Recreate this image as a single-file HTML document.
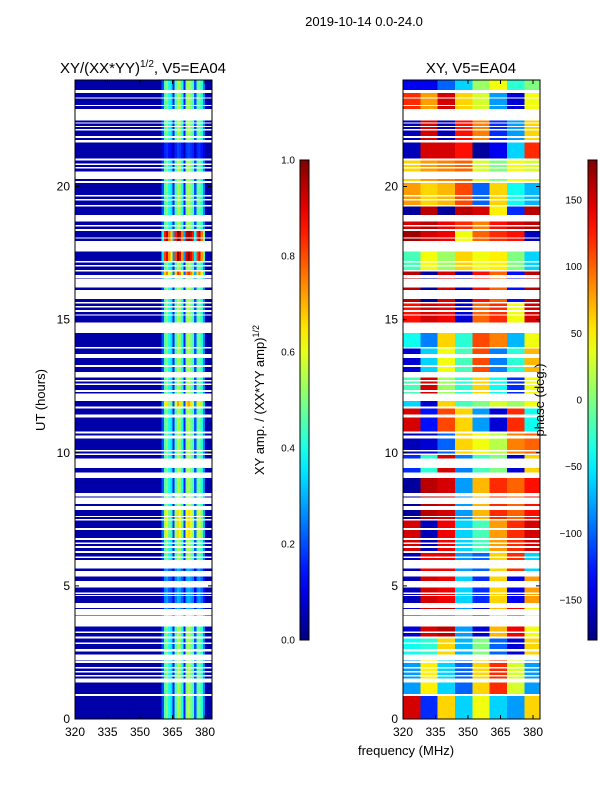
<!DOCTYPE html>
<html><head><meta charset="utf-8"><style>
html,body{margin:0;padding:0;background:#fff;}
svg{display:block;font-family:"Liberation Sans",sans-serif;}
#heatL rect,#heatR rect{shape-rendering:crispEdges;}
</style></head><body>
<svg id="fig" width="600" height="800" viewBox="0 0 600 800" xmlns="http://www.w3.org/2000/svg">
<defs>
<linearGradient id="jetg" x1="0" y1="1" x2="0" y2="0"></linearGradient>
<clipPath id="clipL"><rect x="75" y="80" width="137" height="639"/></clipPath>
<clipPath id="clipR"><rect x="403" y="80" width="137" height="639"/></clipPath>
</defs>
<text x="364" y="26" font-size="13" text-anchor="middle">2019-10-14 0.0-24.0</text>
<text x="143" y="73" font-size="15" text-anchor="middle">XY/(XX*YY)<tspan font-size="10" dy="-6">1/2</tspan><tspan dy="6">, V5=EA04</tspan></text>
<text x="471" y="73" font-size="15" text-anchor="middle">XY, V5=EA04</text>
<g id="heatL" clip-path="url(#clipL)"></g>
<g id="heatR" clip-path="url(#clipR)"></g>
<g id="axes"></g>
<text transform="translate(45,400) rotate(-90)" font-size="13" text-anchor="middle">UT (hours)</text>
<text x="406" y="755" font-size="13" text-anchor="middle">frequency (MHz)</text>
<text transform="translate(264,400) rotate(-90)" font-size="13" text-anchor="middle">XY amp. / (XX*YY amp)<tspan font-size="9" dy="-5">1/2</tspan></text>
<text transform="translate(544,400) rotate(-90)" font-size="13" text-anchor="middle">phase (deg.)</text>
<rect x="300" y="160" width="9" height="480" fill="url(#jetg)" stroke="#000" stroke-width="1"/>
<rect x="588" y="160" width="9" height="480" fill="url(#jetg)" stroke="#000" stroke-width="1"/>
</svg>
<script>
// ---- data ----
const flagged = [[23.52,23.62],[23.31,23.35],[23.02,23.06],[22.47,22.91],[22.36,22.41],[22.23,22.28],[22.10,22.16],[21.83,21.90],[21.65,21.74],[20.97,21.06],[20.81,20.87],[20.68,20.74],[20.28,20.56],[20.14,20.21],[19.62,19.68],[19.48,19.53],[19.24,19.31],[18.68,18.93],[18.49,18.56],[18.33,18.40],[18.05,18.09],[17.55,17.96],[17.14,17.20],[16.99,17.05],[16.80,16.87],[16.55,16.68],[16.21,16.53],[15.77,16.11],[15.61,15.67],[15.45,15.51],[15.28,15.36],[15.15,15.20],[14.49,14.90],[13.92,13.98],[13.55,13.70],[13.22,13.30],[12.83,13.04],[12.67,12.73],[12.55,12.61],[12.29,12.36],[11.94,12.23],[11.67,11.73],[11.32,11.44],[10.73,10.79],[10.58,10.64],[10.54,10.57],[10.04,10.10],[9.92,9.98],[9.42,9.79],[9.06,9.25],[8.35,8.48],[8.08,8.31],[7.85,8.00],[7.59,7.62],[7.46,7.52],[7.09,7.17],[6.73,6.79],[6.58,6.63],[6.43,6.49],[6.23,6.31],[6.04,6.10],[5.66,5.97],[5.35,5.56],[4.94,5.19],[4.69,4.76],[4.62,4.66],[4.16,4.36],[3.88,4.13],[3.47,3.87],[3.23,3.28],[3.03,3.10],[2.81,2.88],[2.53,2.62],[2.20,2.42],[2.11,2.17],[1.89,1.96],[1.74,1.80],[1.59,1.66],[1.38,1.53],[0.87,0.93]];
// amplitude per 1-MHz channel, 320..383 MHz
const ampCols = [0.04,0.04,0.04,0.04,0.04,0.04,0.04,0.04,0.04,0.04,0.04,0.04,0.04,0.04,0.04,0.04,0.04,0.04,0.04,0.04,0.04,0.04,0.04,0.04,0.04,0.04,0.04,0.04,0.04,0.04,0.04,0.04,0.04,0.04,0.04,0.04,0.04,0.04,0.04,0.04,
0.2,0.45,0.5,0.4,0.35,0.15,0.45,0.55,0.5,0.4,0.15,0.5,0.55,0.5,0.45,0.2,0.45,0.5,0.4,0.25,0.04,0.04,0.04,0.04];
// gain blocks [startHour, endHour, gain]
const ampGainStart = [17.9,17.2,16.7,21.06,4.0,11.7,6.7];
const ampGainEnd   = [18.4,17.5,16.8,21.65,5.7,12.0,8.0];
const ampGainVal   = [1.9,1.8,1.5,0.35,0.55,1.3,1.2];
// phase blocks: start hour (descending) and 8 values per block (8-MHz columns)
const phaseStarts = [23.55,22.6,21.7,21.0,20.0,19.3,18.9,18.4,17.9,16.9,15.7,14.9,14.0,13.0,12.0,11.7,10.8,10.0,9.0,7.4,6.3,5.6,4.3,3.1,2.3,1.1,0];
const phaseVals = [
[-140,-140,-100,-60,10,40,-30,0],
[120,80,150,60,30,-80,-150,40],
[-160,150,-160,130,90,-120,-80,60],
[-160,150,150,130,-170,-140,-60,120],
[60,80,90,100,30,0,40,30],
[80,60,70,110,-100,60,-40,-70],
[-170,160,-170,160,150,50,-120,160],
[150,160,140,120,90,130,150,160],
[170,150,140,40,100,120,130,-160],
[-20,40,10,60,40,50,0,-60],
[160,-170,150,-160,130,100,-130,160],
[130,150,140,-150,100,120,40,150],
[-40,-90,60,-30,110,90,-70,40],
[-150,-60,40,-20,110,-90,-30,70],
[-20,150,10,-30,60,-40,-120,40],
[-60,-150,60,-20,0,30,10,40],
[150,-130,110,60,-80,-150,120,-40],
[-160,-150,-100,60,40,20,90,100],
[-120,-30,150,-90,-20,0,-150,60],
[-170,160,150,-80,70,120,100,130],
[150,-160,140,-60,-20,80,120,150],
[-160,140,140,-80,-100,60,120,-60],
[-160,150,140,-60,-120,60,-140,80],
[-150,150,160,-80,-150,70,140,40],
[-40,-30,60,-70,0,-100,-150,60],
[-80,50,-60,-100,60,120,30,-80],
[150,-120,60,-60,40,-60,-80,60]];
const yTicks = [0,5,10,15,20];
const xTicks = [320,335,350,365,380];
const ampTicks = [0.0,0.2,0.4,0.6,0.8,1.0];
const phaseTicks = [-150,-100,-50,0,50,100,150];

// ---- helpers ----
const NS = "http://www.w3.org/2000/svg";
function jet(v){v=Math.max(0,Math.min(1,v));const c=t=>Math.round(255*Math.max(0,Math.min(1,1.5-Math.abs(t))));return `rgb(${c(4*v-3)},${c(4*v-2)},${c(4*v-1)})`;}
const yS = h => 719 - h*26.625;
const xS = (x0,f) => x0 + (f-320)*2.1667;
function mk(tag, attrs, parent){const e=document.createElementNS(NS,tag);for(const k in attrs)e.setAttribute(k,attrs[k]);parent.appendChild(e);return e;}

const g = document.getElementById('jetg');
for(let i=0;i<=20;i++){mk('stop',{offset:(i/20).toString(),'stop-color':jet(i/20)},g);}

const fl = flagged.slice().sort((a,b)=>a[0]-b[0]);
const segs=[];let cur=0;
for(const f of fl){if(f[0]>cur)segs.push([cur,f[0]]);cur=Math.max(cur,f[1]);}
if(cur<24)segs.push([cur,24]);

function gainAt(h){for(let i=0;i<ampGainStart.length;i++){if(h>=ampGainStart[i]&&h<=ampGainEnd[i])return ampGainVal[i];}return 1;}
function phaseRow(h){for(let i=0;i<phaseStarts.length;i++){if(h>=phaseStarts[i])return phaseVals[i];}return phaseVals[phaseVals.length-1];}

const heatL=document.getElementById('heatL'), heatR=document.getElementById('heatR');
for(const s of segs){
  const y1=yS(s[1]), y2=yS(s[0]), hm=(s[0]+s[1])/2, gn=gainAt(hm);
  for(let c=0;c<ampCols.length;c++){
    let v=ampCols[c]; if(v>0.1) v=Math.min(1,v*gn);
    const r=mk('rect',{x:xS(75,320+c).toFixed(2),y:y1.toFixed(2),width:'2.6',height:(y2-y1).toFixed(2),fill:jet(v)},heatL);
    
    
  }
  const pv=phaseRow(hm);
  for(let c=0;c<pv.length;c++){
    const r=mk('rect',{x:xS(403,320+c*8).toFixed(2),y:y1.toFixed(2),width:(8*2.1667+0.6).toFixed(2),height:(y2-y1).toFixed(2),fill:jet((pv[c]+180)/360)},heatR);
    
    
  }
}

const ax=document.getElementById('axes');
for(const x0 of [75,403]){
  const fr=mk('rect',{x:x0,y:80,width:137,height:639,fill:'none',stroke:'#000','stroke-width':1},ax);
  
  
  for(const t of yTicks){
    const y=yS(t);
    mk('line',{x1:x0,x2:x0+4,y1:y,y2:y,stroke:'#000'},ax);
    mk('line',{x1:x0+137,x2:x0+133,y1:y,y2:y,stroke:'#000'},ax);
    const tx=mk('text',{x:x0-5,y:y+4,'font-size':12,'text-anchor':'end'},ax);
    tx.textContent=t;
    
    
  }
  for(const t of xTicks){
    const x=xS(x0,t);
    mk('line',{x1:x,x2:x,y1:719,y2:715,stroke:'#000'},ax);
    mk('line',{x1:x,x2:x,y1:80,y2:84,stroke:'#000'},ax);
    const tx=mk('text',{x:x,y:736,'font-size':12,'text-anchor':'middle'},ax);
    tx.textContent=t;
    
    
  }
}
for(const t of ampTicks){
  const y=640-t*480;
  mk('line',{x1:300,x2:304,y1:y,y2:y,stroke:'#000'},ax);
  const tx=mk('text',{x:295,y:y+3.5,'font-size':10,'text-anchor':'end'},ax);
  tx.textContent=t.toFixed(1);
  
  
}
for(const t of phaseTicks){
  const y=400-t*480/360;
  mk('line',{x1:588,x2:592,y1:y,y2:y,stroke:'#000'},ax);
  const tx=mk('text',{x:582,y:y+3.5,'font-size':10,'text-anchor':'end'},ax);
  tx.textContent=t<0?'\u2212'+Math.abs(t):t;
  
  
}
</script>
</body></html>
